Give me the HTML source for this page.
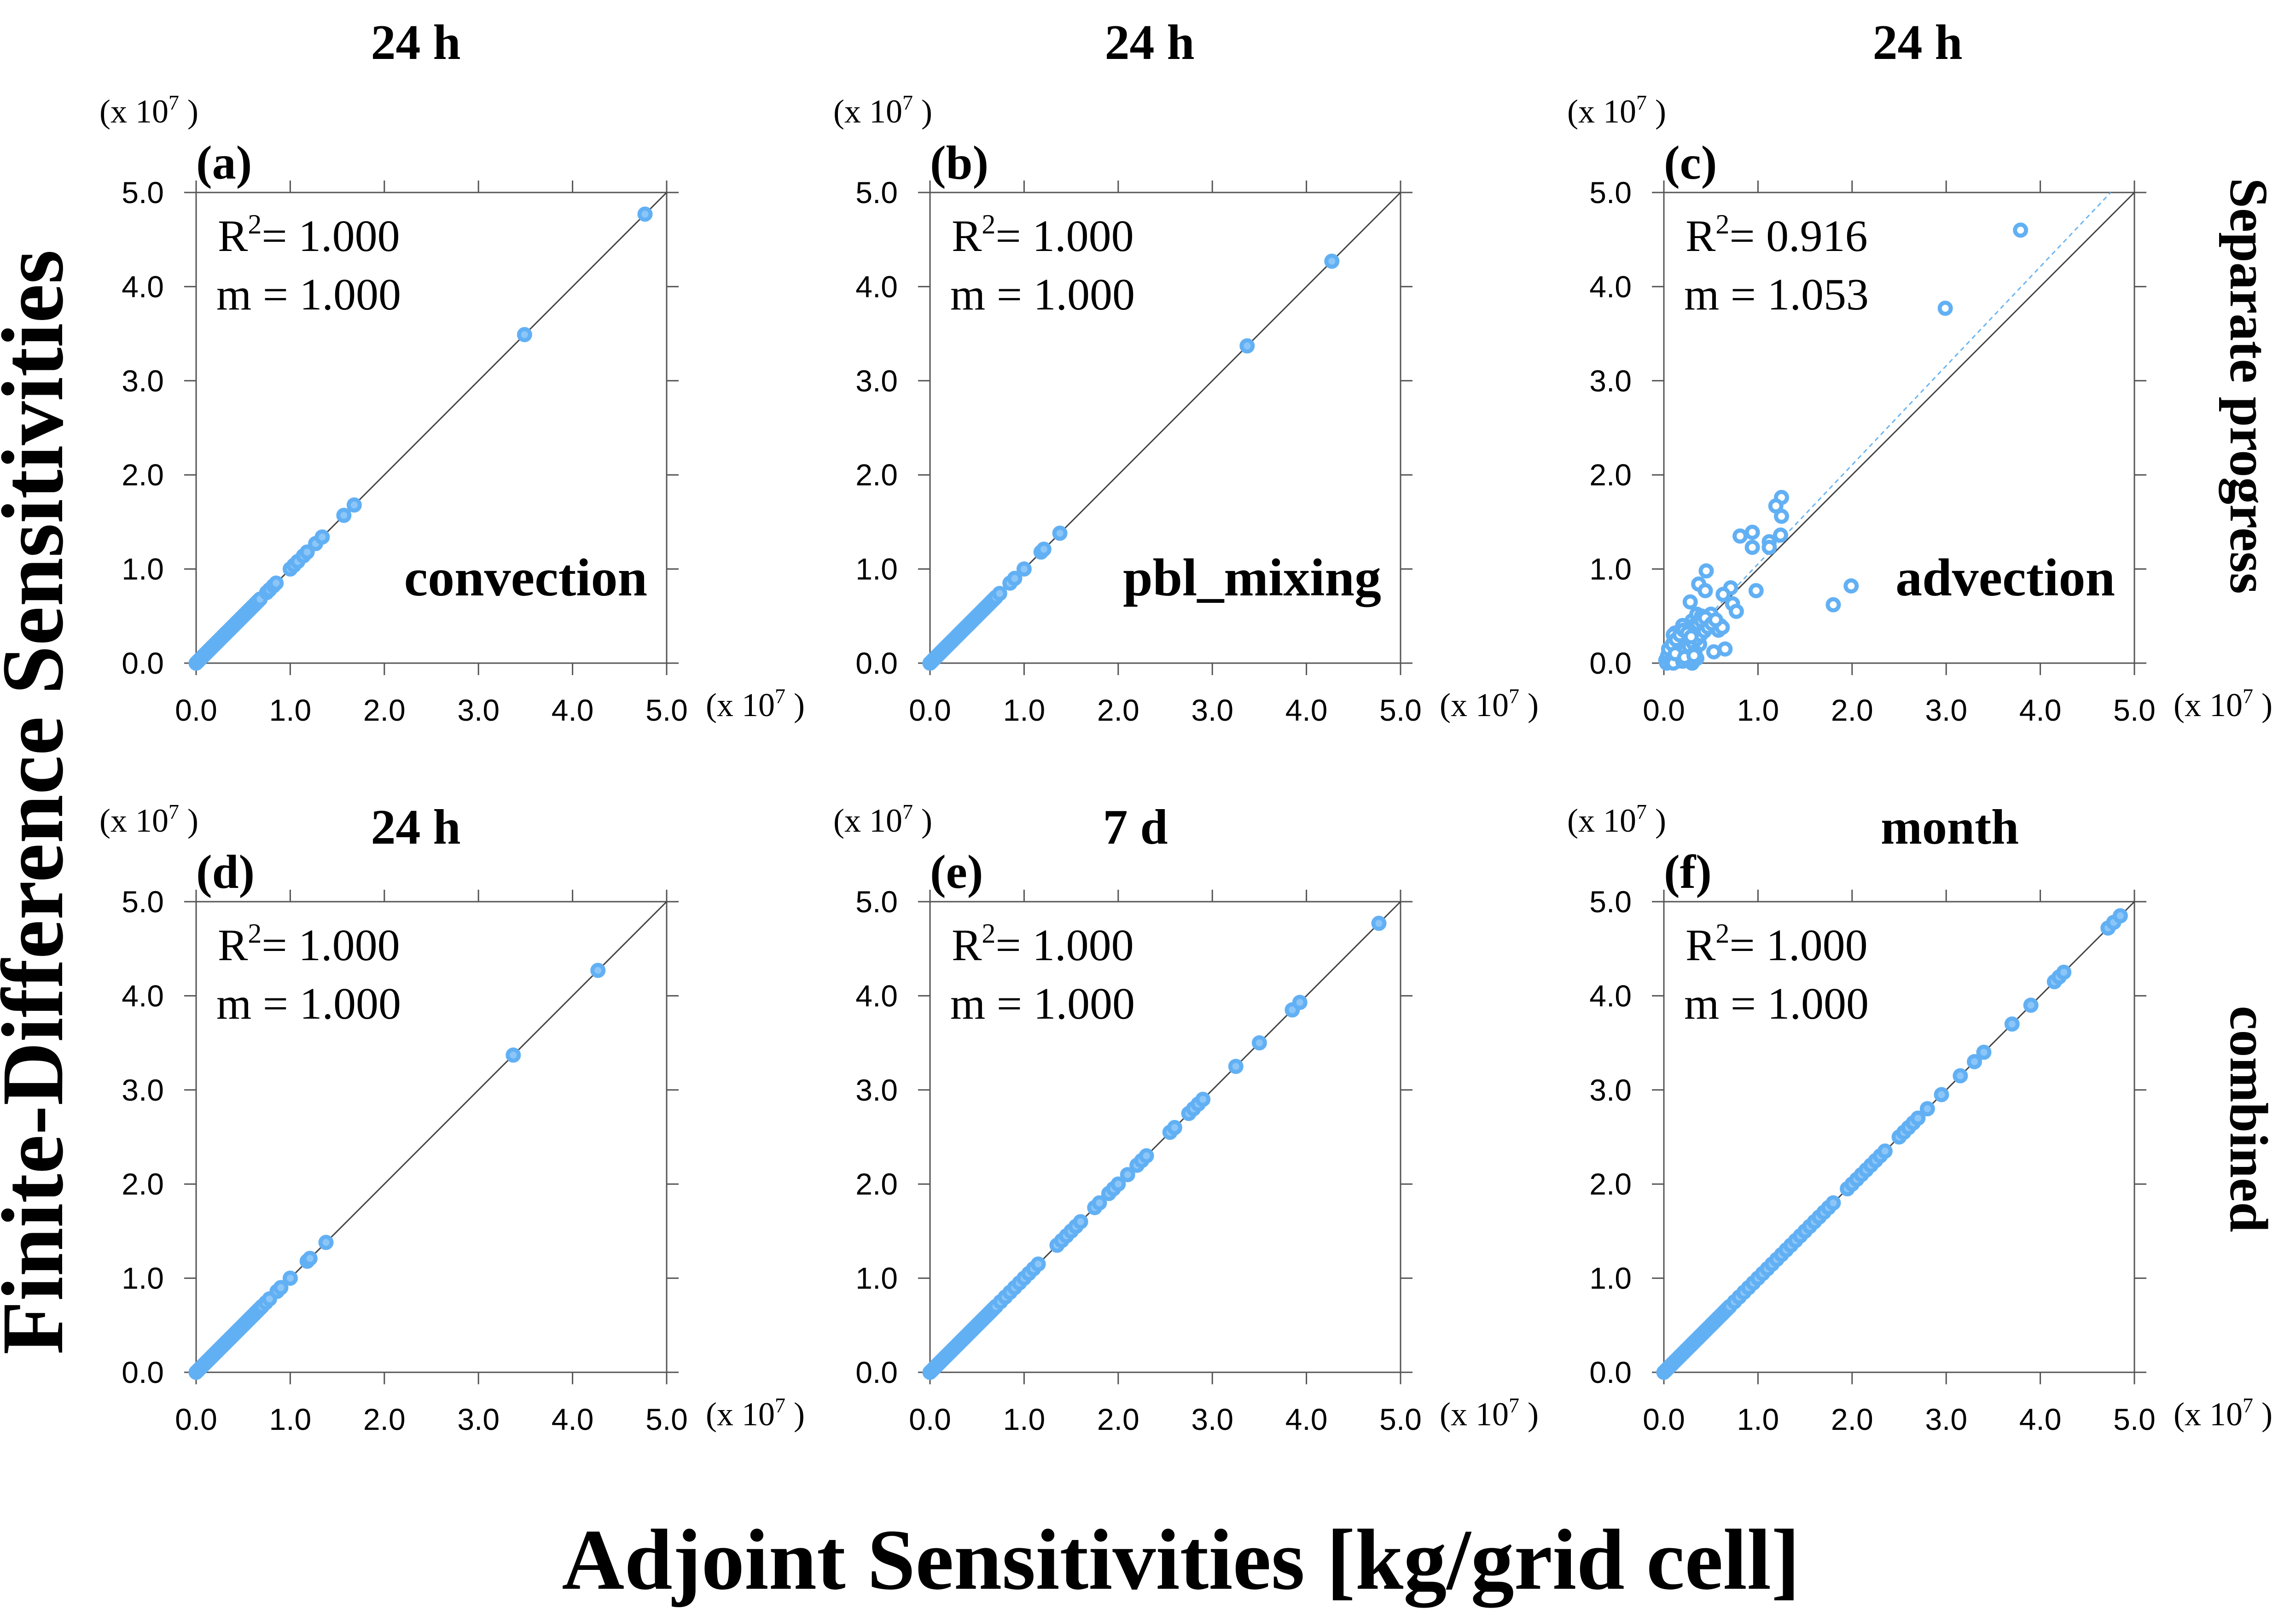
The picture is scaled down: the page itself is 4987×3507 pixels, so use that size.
<!DOCTYPE html>
<html><head><meta charset="utf-8">
<style>
html,body{margin:0;padding:0;background:#fff;}
svg{display:block;}
.serif{font-family:"Liberation Serif",serif;}
.sans{font-family:"Liberation Sans",sans-serif;}
</style></head>
<body>
<svg id="fig" xmlns="http://www.w3.org/2000/svg" width="4987" height="3507" viewBox="0 0 4987 3507">
<rect width="4987" height="3507" fill="#fff"/>
<text class="serif" font-weight="bold" font-size="191" text-anchor="middle" transform="translate(135,1742) rotate(-90)">Finite-Difference Sensitivities</text>
<text class="serif" font-weight="bold" font-size="188" text-anchor="middle" x="2565" y="3450">Adjoint Sensitivities [kg/grid cell]</text>
<text class="serif" font-weight="bold" font-size="118" text-anchor="middle" transform="translate(4845,838) rotate(90)">Separate progress</text>
<text class="serif" font-weight="bold" font-size="118" text-anchor="middle" transform="translate(4845,2430) rotate(90)">combined</text>
</svg>
<script>
const dense1 = [0,0.02,0.04,0.06,0.08,0.1,0.12,0.14,0.16,0.18,0.2,0.22,0.24,0.26,0.28,0.3,0.32,0.34,0.36,0.38,0.4,0.42,0.44,0.46,0.48,0.5,0.52,0.54,0.56,0.58,0.6,0.62,0.64,0.66,0.68];
const extraA = [0.75,0.78,0.82,0.85,1.0,1.04,1.08,1.14,1.18,1.27,1.34,1.57,1.68,3.49,4.77];
const extraB = [0.7,0.74,0.85,0.9,1.0,1.18,1.21,1.38,3.37,4.27];
const extraD = [0.7,0.74,0.78,0.86,0.9,1.0,1.18,1.21,1.38,3.37,4.27];
const extraE = [0.7,0.75,0.8,0.85,0.9,0.95,1.0,1.05,1.1,1.15,1.35,1.4,1.45,1.5,1.55,1.6,1.75,1.8,1.9,1.95,2.0,2.1,2.2,2.25,2.3,2.55,2.6,2.75,2.8,2.85,2.9,3.25,3.5,3.85,3.93,4.77];
const extraF = [0.7,0.75,0.8,0.85,0.9,0.95,1.0,1.05,1.1,1.15,1.2,1.25,1.3,1.35,1.4,1.45,1.5,1.55,1.6,1.65,1.7,1.75,1.8,1.95,2.0,2.05,2.1,2.15,2.2,2.25,2.3,2.35,2.5,2.55,2.6,2.65,2.7,2.8,2.95,3.15,3.3,3.4,3.7,3.9,4.15,4.2,4.25,4.72,4.78,4.85];
const advX = [3.79,2.99,1.99,1.80,1.25,1.19,1.25,1.24,0.94,0.81,0.94,1.12,1.12,0.45,0.37,0.44,0.98,0.71,0.63,0.28,0.73,0.77,0.53,0.65,0.12,0.2,0.3,0.35,0.4,0.5,0.55,0.6,0.25,0.15,0.08,0.05,0.1,0.18,0.22,0.3,0.32,0.42,0.48,0.58,0.62,0.38,0.27,0.14,0.06,0.2,0.3,0.1,0.25,0.35,0.02,0.04,0.08,0.12,0.16,0.2,0.24,0.28,0.32,0.36,0.4,0.44,0.03,0.07,0.11,0.15,0.19,0.23,0.27,0.31,0.35,0.39,0.43,0.47,0.51,0.55,0.05,0.09,0.13,0.17,0.21,0.25,0.29,0.33,0.1,0.2,0.3,0.12,0.22,0.32];
const advY = [4.60,3.77,0.82,0.62,1.76,1.67,1.56,1.36,1.39,1.35,1.23,1.29,1.23,0.98,0.84,0.77,0.77,0.80,0.73,0.65,0.63,0.55,0.12,0.15,0.32,0.4,0.45,0.52,0.5,0.52,0.45,0.4,0.3,0.22,0.12,0.05,0.18,0.28,0.35,0.25,0.15,0.35,0.45,0.35,0.38,0.2,0.1,0.02,0.1,0.05,0.0,0.3,0.2,0.05,0.03,0.08,0.12,0.2,0.25,0.3,0.35,0.38,0.4,0.42,0.45,0.48,0.0,0.02,0.05,0.08,0.1,0.14,0.18,0.22,0.26,0.3,0.34,0.38,0.42,0.46,0.15,0.2,0.25,0.3,0.35,0.32,0.28,0.12,0.0,0.02,0.04,0.1,0.06,0.08];
const ticks = [0,1,2,3,4,5];
const tickLabels = ["0.0","1.0","2.0","3.0","4.0","5.0"];
const slopeC = 1.053;

const panels = [
 {id:"a",L:426,T:418,title:"24 h",tx:903,ty:128,r2:"1.000",m:"1.000",proc:"convection",xs:dense1.concat(extraA),ys:dense1.concat(extraA)},
 {id:"b",L:2020,T:418,title:"24 h",tx:2497,ty:128,r2:"1.000",m:"1.000",proc:"pbl_mixing",xs:dense1.concat(extraB),ys:dense1.concat(extraB)},
 {id:"c",L:3614,T:418,title:"24 h",tx:4165,ty:128,r2:"0.916",m:"1.053",proc:"advection",xs:advX,ys:advY,fit:slopeC},
 {id:"d",L:426,T:1958,title:"24 h",tx:903,ty:1832,r2:"1.000",m:"1.000",proc:"",xs:dense1.concat(extraD),ys:dense1.concat(extraD)},
 {id:"e",L:2020,T:1958,title:"7 d",tx:2466,ty:1832,r2:"1.000",m:"1.000",proc:"",xs:dense1.concat(extraE),ys:dense1.concat(extraE)},
 {id:"f",L:3614,T:1958,title:"month",tx:4235,ty:1832,r2:"1.000",m:"1.000",proc:"",xs:dense1.concat(extraF),ys:dense1.concat(extraF)}
];
const W=1022,H=1022,NS="http://www.w3.org/2000/svg";
const svg=document.getElementById("fig");
function mk(tag,attrs,parent,txt){const e=document.createElementNS(NS,tag);for(const k in attrs)e.setAttribute(k,attrs[k]);if(txt!==undefined)e.textContent=txt;(parent||svg).appendChild(e);return e;}
panels.forEach(p=>{
 const sx=v=>p.L+v/5*W, sy=v=>p.T+H-v/5*H;
 const g=mk("g",{});
 
 
 const t=mk("text",{x:p.tx,y:p.ty,"text-anchor":"middle","font-size":108,"font-weight":"bold",class:"serif"},g,p.title);
 
 
 const lab=mk("text",{x:p.L,y:p.T-30,"font-size":104,"font-weight":"bold",class:"serif"},g,"("+p.id+")");
 
 
 const ym=mk("text",{x:p.L-210,y:p.T-152,"font-size":72,class:"serif"},g);
 
 
 ym.innerHTML='(x 10<tspan dy="-28" font-size="46">7</tspan><tspan dy="28"> )</tspan>';
 const xm=mk("text",{x:p.L+W+85,y:p.T+H+115,"font-size":72,class:"serif"},g);
 
 
 xm.innerHTML='(x 10<tspan dy="-28" font-size="46">7</tspan><tspan dy="28"> )</tspan>';
 const fr=mk("rect",{x:p.L,y:p.T,width:W,height:H,fill:"none",stroke:"#555","stroke-width":3},g);
 
 
 ticks.forEach((v,i)=>{
  const x=sx(v),y=sy(v);
  mk("line",{x1:x,y1:p.T+H,x2:x,y2:p.T+H+26,stroke:"#555","stroke-width":3},g);
  mk("line",{x1:x,y1:p.T,x2:x,y2:p.T-26,stroke:"#555","stroke-width":3},g);
  mk("line",{x1:p.L,y1:y,x2:p.L-26,y2:y,stroke:"#555","stroke-width":3},g);
  mk("line",{x1:p.L+W,y1:y,x2:p.L+W+26,y2:y,stroke:"#555","stroke-width":3},g);
  const xl=mk("text",{x:x,y:p.T+H+125,"text-anchor":"middle","font-size":66,class:"sans"},g,tickLabels[i]);
  
  
  const yl=mk("text",{x:p.L-70,y:y+23,"text-anchor":"end","font-size":66,class:"sans"},g,tickLabels[i]);
  
  
 });
 const one=mk("line",{x1:sx(0),y1:sy(0),x2:sx(5),y2:sy(5),stroke:"#444","stroke-width":3},g);
 
 
 if(p.fit){
  const fl=mk("line",{x1:sx(0),y1:sy(0),x2:sx(5/p.fit),y2:sy(5),stroke:"#6ab4f2","stroke-width":3,"stroke-dasharray":"10,8"},g);
  
  
 }
 p.xs.forEach((xv,i)=>{
  const c=mk("circle",{cx:sx(xv),cy:sy(p.ys[i]),r:12,fill:p.fit?"#fff":"#8cc6f8",stroke:"#62b0f4","stroke-width":9},g);
  
  
 });
 const r=mk("text",{x:p.L+47,y:p.T+127,"font-size":98,class:"serif"},g);
 
 
 r.innerHTML='R<tspan dy="-38" font-size="60">2</tspan><tspan dy="38">= '+p.r2+'</tspan>';
 const m=mk("text",{x:p.L+44,y:p.T+254,"font-size":98,class:"serif"},g,"m = "+p.m);
 
 
 if(p.proc){
  const pr=mk("text",{x:p.L+W-42,y:p.T+875,"text-anchor":"end","font-size":116,"font-weight":"bold",class:"serif"},g,p.proc);
  
  
 }
});
</script>
</body></html>
